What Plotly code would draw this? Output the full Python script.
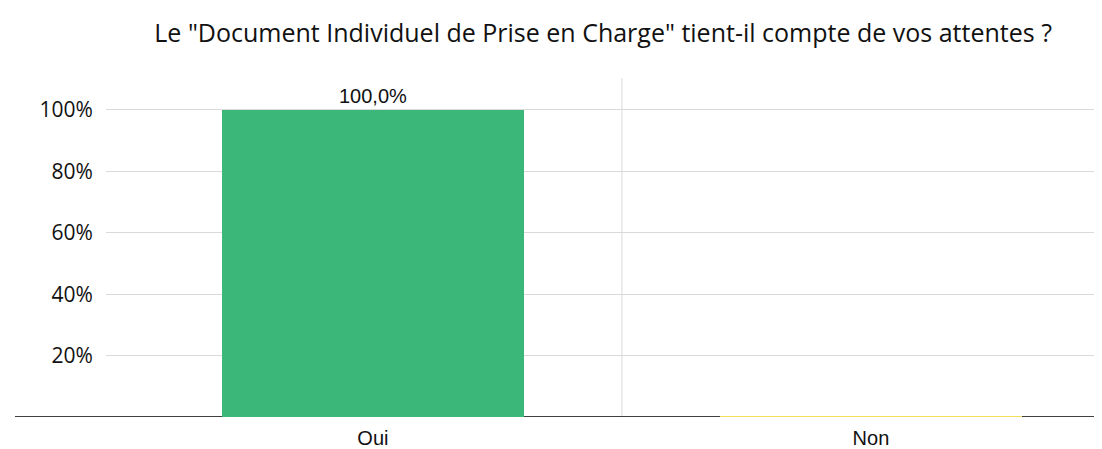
import plotly.graph_objects as go

categories = ["Oui", "Non"]
values = [100.0, 0.0]
colors = ["#3ab779", "#f4de5c"]
ytick_vals = [20, 40, 60, 80, 100]
ytick_text = ["20%", "40%", "60%", "80%", "100%"]
title = 'Le "Document Individuel de Prise en Charge" tient-il compte de vos attentes ?'

# zero-valued bars are shown as a thin line on the axis
ZERO_H = 0.8
bar_y = [v if v > 0 else ZERO_H for v in values]
bar_base = [0 if v > 0 else -ZERO_H / 2 for v in values]
labels = [f"{v:.1f}".replace(".", ",") + "%" if v > 0 else "" for v in values]

fig = go.Figure()
fig.add_trace(go.Bar(
    x=categories, y=bar_y, base=bar_base,
    marker=dict(color=colors, line=dict(width=0)),
    width=0.606,
    text=labels, textposition="outside",
    textfont=dict(family="Liberation Sans, Arial", size=20, color="#111111"),
    cliponaxis=False,
    hoverinfo="skip",
))

fig.update_layout(
    width=1094, height=441,
    margin=dict(l=98, r=0, t=70, b=32),
    paper_bgcolor="white", plot_bgcolor="white",
    showlegend=False,
    bargap=0,
    title=dict(text=title, x=0.544, xanchor="center", y=0.943, yanchor="middle",
               font=dict(family="Open Sans", size=25, color="#111111")),
    xaxis=dict(
        range=[-0.536, 1.464], type="category",
        showgrid=False, zeroline=False, showline=False,
        tickfont=dict(family="Liberation Sans, Arial", size=20, color="#111111"),
        ticks="outside", ticklen=3, tickcolor="rgba(0,0,0,0)",
    ),
    yaxis=dict(
        range=[0, 110.4], tickmode="array", tickvals=ytick_vals, ticktext=ytick_text,
        showgrid=True, gridcolor="#d9d9d9", gridwidth=1,
        zeroline=False, showline=False,
        tickfont=dict(family="Open Sans", size=21, color="#111111"),
        ticks="outside", ticklen=8, tickcolor="rgba(0,0,0,0)",
    ),
    shapes=[
        dict(type="line", xref="x", yref="paper", x0=0.5, x1=0.5, y0=0, y1=1,
             line=dict(color="#d9d9d9", width=1), layer="below"),
        dict(type="line", xref="paper", yref="y", x0=-0.0914, x1=1.01, y0=0, y1=0,
             line=dict(color="#000000", width=1.5), layer="below"),
    ],
)

fig.write_html("out.html")
